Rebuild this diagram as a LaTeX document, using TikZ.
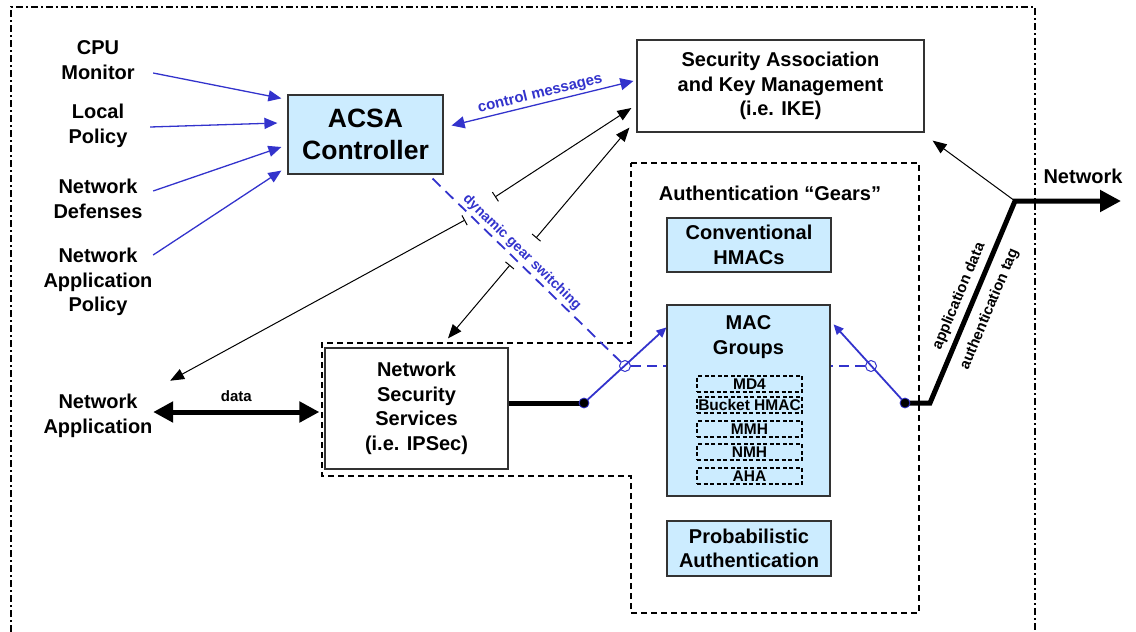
\documentclass[tikz,border=0pt]{standalone}
\usepackage{fontspec}
\setmainfont{Liberation Sans}
\usetikzlibrary{arrows.meta}
\definecolor{gearfill}{RGB}{204,236,255}
\definecolor{ctlblue}{RGB}{51,51,204}
\begin{document}
\begin{tikzpicture}[x=1pt,y=-1pt,
	big/.style={font=\fontsize{20}{24.5}\selectfont\bfseries,align=center,inner sep=2pt},
	small/.style={font=\fontsize{15}{17}\selectfont\bfseries,inner sep=2pt},
	plainbox/.style={big,draw=black!80,line width=1.2pt,fill=white},
	gearbox/.style={plainbox,fill=gearfill},
	algbox/.style={draw,line width=1.2pt,dash pattern=on 4pt off 2.5pt,minimum width=105pt,minimum height=16pt,inner sep=0pt,font=\fontsize{15.5}{17}\selectfont\bfseries},
	feed/.style={draw=ctlblue,line width=1.3pt,-{Triangle[length=13pt,width=11pt]}},
	ctl/.style={draw=black,line width=1pt,{Bar[width=11pt]}-{Triangle[length=14pt,width=11pt]}},
	thickline/.style={line width=5pt},
	switchline/.style={draw=ctlblue,line width=1.8pt},
	dot/.style={circle,fill=black,draw=ctlblue,line width=0.8pt,inner sep=0pt,minimum size=10pt},
	ring/.style={circle,draw=ctlblue,line width=1pt,inner sep=0pt,minimum size=11pt}]
\useasboundingbox (0,0) rectangle (1136,632);

% outer frame, open at the bottom
\draw[line width=1.5pt,dash pattern=on 7pt off 3pt on 2pt off 3pt] (11,632) -- (11,7) -- (1035,7) -- (1035,632);

% authentication gears region
\draw[line width=1.3pt,dash pattern=on 6pt off 4pt] (631,163) -- (919,163) -- (919,613) -- (631,613) -- (631,476) -- (322,476) -- (322,343) -- (631,343) -- cycle;

% inputs
\node[big] (cpu) at (98,60) {CPU\\Monitor};
\node[big] (locpol) at (98,126) {Local\\Policy};
\node[big] (netdef) at (98,199) {Network\\Defenses};
\node[big] (apppol) at (98,282) {Network\\Application\\Policy};
\node[big] (netapp) at (98,416) {Network\\Application};
\node[big] (netlbl) at (1083,176) {Network};
\node[big] (gears) at (770,193) {Authentication “Gears”};

% boxes
\node[gearbox,minimum width=155pt,minimum height=79pt,font=\fontsize{26.5}{32}\selectfont\bfseries] (acsa) at (365.5,134.5) {ACSA\\Controller};
\node[plainbox,minimum width=287pt,minimum height=92pt] (sakm) at (780.5,86) {Security Association\\and Key Management\\(i.e. IKE)};
\node[plainbox,minimum width=183pt,minimum height=121pt] (nss) at (416.5,408.5) {Network\\Security\\Services\\(i.e. IPSec)};
\node[gearbox,minimum width=164pt,minimum height=54pt] (hmac) at (749,245) {Conventional\\HMACs};
\node[gearbox,minimum width=163pt,minimum height=191pt] (macgrp) at (748.5,400.5) {};
\node[big] (macttl) at (748.5,337) {MAC\\Groups};
\foreach \alg/\yy [count=\i] in {MD4/384,Bucket HMAC/405,MMH/429,NMH/452,AHA/476}
	\node[algbox] (alg\i) at (749.5,\yy) {\alg};
\node[gearbox,minimum width=164pt,minimum height=55pt] (prob) at (749,548.5) {Probabilistic\\Authentication};

% controller inputs
\draw[feed] ([xshift=16.3pt,yshift=-13pt]cpu.east) -- ([xshift=-6pt,yshift=-4pt]acsa.north west);
\draw[feed] ([xshift=20.5pt,yshift=-1pt]locpol.east) -- ([xshift=-10pt,yshift=11.5pt]acsa.west);
\draw[feed] ([xshift=8.5pt,yshift=8pt]netdef.east) -- ([xshift=-6pt,yshift=-12.5pt]acsa.west);
\draw[feed] ([xshift=-1.5pt,yshift=27pt]apppol.east) -- ([xshift=-6pt,yshift=4pt]acsa.south west);

\draw[draw=ctlblue,line width=1.3pt,{Triangle[length=13pt,width=12pt]}-{Triangle[length=13pt,width=12pt]}] ([xshift=8pt,yshift=9pt]acsa.east) -- node[sloped,above,small,text=ctlblue] (ctlmsg) {control messages} ([xshift=-3pt,yshift=5pt]sakm.west);

% control links
\coordinate (t1) at (495,197);
\coordinate (t2) at (536,238);
\coordinate (t3) at (465,220);
\coordinate (t4) at (510,265);
\draw[ctl] (t1) -- ([xshift=-5pt,yshift=-22pt]sakm.west);
\draw[ctl] (t2) -- ([xshift=-7pt,yshift=5pt]sakm.south west);
\draw[ctl] (t3) -- ([xshift=15.5pt,yshift=11.5pt]netapp.north east);
\draw[ctl] (t4) -- ([xshift=31.5pt,yshift=9pt]nss.north);

% gear switch
\node[ring] (lring) at (625,366) {};
\node[ring] (rring) at (871,366) {};
\coordinate (lsw) at (584,403);
\coordinate (rsw) at (905,403);
\coordinate (kn) at (930,403);
\coordinate (jn) at (1015,201);
\coordinate (netout) at (1121,201);

\draw[switchline,dash pattern=on 11pt off 7pt] ([xshift=-11pt,yshift=-4pt]acsa.south east) -- node[sloped,above=0pt,pos=0.44,small,font=\fontsize{14}{16}\selectfont\bfseries,text=ctlblue] (dgs) {dynamic gear switching} (lring);
\draw[switchline,dash pattern=on 10pt off 6pt] (lring) -- (lring -| macgrp.west);
\draw[switchline,dash pattern=on 10pt off 6pt] (rring) -- (rring -| macgrp.east);
\draw[switchline,-{Triangle[length=10pt,width=9pt]}] (lsw) -- ([yshift=-23pt]macgrp.north west);
\draw[switchline,-{Triangle[length=10pt,width=9pt]}] (rsw) -- ([xshift=3pt,yshift=-20pt]macgrp.north east);

% data path
\draw[thickline,{Triangle[length=20pt,width=20pt]}-{Triangle[length=20pt,width=20pt]}] ([xshift=-1.5pt,yshift=4pt]netapp.east) -- node[above,small,yshift=6pt] (datalbl) {data} ([xshift=-5pt,yshift=-3.5pt]nss.west);
\draw[thickline] ([yshift=5.5pt]nss.east) -- (lsw);
\draw[thickline,-{Triangle[length=21pt,width=21pt]}] (rsw) -- (kn) -- node[sloped,above=3pt,small] (appdata) {application data} node[sloped,below=7pt,small] (authtag) {authentication tag} (jn) -- (netout);
\draw[line width=1pt,-{Triangle[length=14pt,width=11pt]}] (jn) -- ([xshift=8pt,yshift=-8pt]sakm.south east);

\node[dot] (ldot) at (lsw) {};
\node[dot] (rdot) at (rsw) {};
\end{tikzpicture}
\end{document}
